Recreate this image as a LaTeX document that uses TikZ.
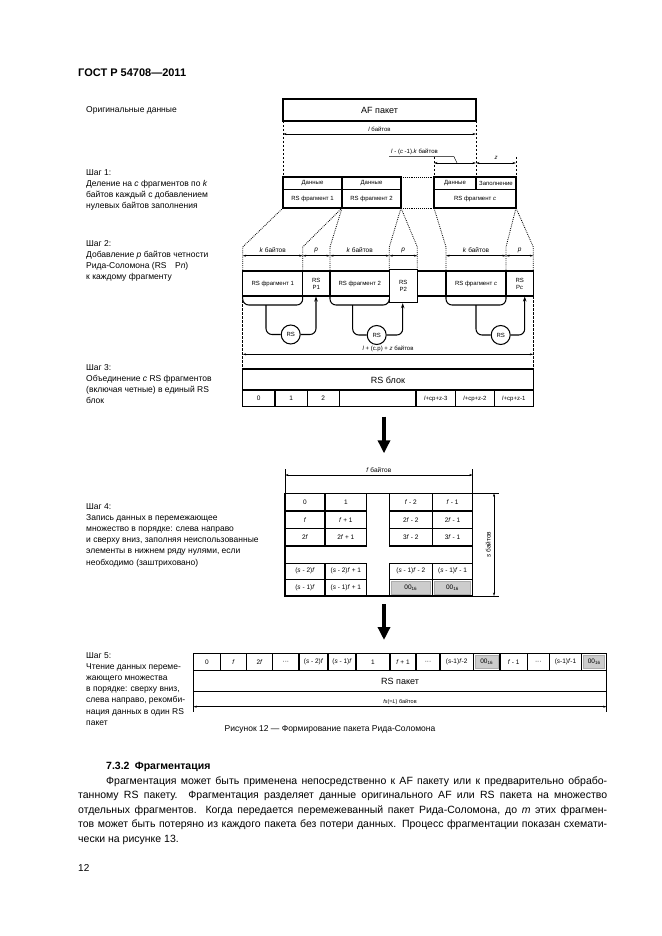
\documentclass[tikz,border=0pt]{standalone}
\usepackage{fontspec}
\setmainfont{Liberation Sans}
\usetikzlibrary{arrows.meta}
\newcommand{\fsz}[2]{\fontsize{#1}{#2}\selectfont}
\newcommand{\gridcell}[6]{\draw[bx] (#1,#2) rectangle (#3,#4); \node[cell] (#6) at ({(#1+#3)/2},{(#2+#4)/2}) {#5};}
\begin{document}
\begin{tikzpicture}[x=1pt,y=-1pt,
  bx/.style={draw,line width=1.05pt},
  ln/.style={line width=1.05pt},
  dimline/.style={line width=0.45pt,{Stealth[length=3.5pt,width=2pt]}-{Stealth[length=3.5pt,width=2pt]}},
  thinl/.style={line width=0.45pt},
  dsh/.style={line width=0.55pt,dash pattern=on 2.5pt off 1.5pt},
  dotl/.style={line width=0.85pt,dash pattern=on 0.8pt off 1.1pt},
  lbl/.style={inner sep=0pt,font=\fsz{6}{7}},
  klbl/.style={inner sep=0pt,font=\fsz{6.5}{7.5}},
  cell/.style={inner sep=0pt,font=\fsz{6.5}{7.5}},
  big/.style={inner sep=0pt,font=\fsz{9}{10}},
  side/.style={inner sep=0pt,anchor=north west,align=left,font=\fsz{8.5}{11.2}},
  shade/.style={fill=gray!40,draw=gray!65,line width=0.45pt},
  fb/.style={-{Stealth[length=5pt,width=3.5pt]}},
  bigarrow/.style={line width=4pt,-{Triangle[length=13pt,width=12pt]}},
]
\fill[white] (0,0) rectangle (661,936);
\useasboundingbox (0,0) rectangle (661,936);

% header
\node[anchor=west,inner sep=0pt,font=\bfseries\fsz{11}{13}] (hdr) at (78,73) {ГОСТ Р 54708—2011};

% side texts
\node[side] (t0) at (86,106) {Оригинальные данные};
\node[side] (t1) at (86,169) {Шаг 1:\\Деление на \textit{c} фрагментов по \textit{k}\\байтов каждый с добавлением\\нулевых байтов заполнения};
\node[side] (t2) at (86,240) {Шаг 2:\\Добавление \textit{p} байтов четности\\Рида-Соломона (RS\quad P\textit{n})\\к каждому фрагменту};
\node[side] (t3) at (86,364) {Шаг 3:\\Объединение \textit{c} RS фрагментов\\(включая четные) в единый RS\\блок};
\node[side] (t4) at (86,503) {Шаг 4:\\Запись данных в перемежающее\\множество в порядке: слева направо\\и сверху вниз, заполняя неиспользованные\\элементы в нижнем ряду нулями, если\\необходимо (заштриховано)};
\node[side] (t5) at (86,652) {Шаг 5:\\Чтение данных переме-\\жающего множества\\в порядке: сверху вниз,\\слева направо, рекомби-\\нация данных в один RS\\пакет};

% ---------- original data / step 1
\draw[bx] (283,99) rectangle (476,121);
\node[big] (af) at (379.5,110) {AF пакет};
\draw[dsh] (283,121) -- (283,177);
\draw[dsh] (476,121) -- (476,177);
\draw[dimline] (283,134) -- (476,134);
\node[lbl] (lb) at (379.5,129.5) {\textit{l} байтов};
\draw[dsh] (434,157) -- (434,177);
\draw[dsh] (516,157) -- (516,177);
\draw[dimline] (434,163) -- (476,163);
\draw[dimline] (476,163) -- (516,163);
\node[lbl,anchor=south west] (lk) at (391,155.3) {\textit{l} - (\textit{c} -1).\textit{k} байтов};
\coordinate (lkend) at (457,163);
\draw[thinl] (389,156.7) -- (454,156.7) -- (lkend);
\node[lbl] (zl) at (496,157.5) {\textit{z}};

\draw[bx] (283,177) rectangle (342,208);
\draw[ln] (283,189.3) -- (342,189.3);
\draw[bx] (342,177) rectangle (401,208);
\draw[ln] (342,189.3) -- (401,189.3);
\draw[dotl] (401,177) -- (434,177);
\draw[dotl] (401,208) -- (434,208);
\draw[bx] (434,177) rectangle (516,208);
\draw[ln] (434,189.3) -- (516,189.3);
\draw[ln] (476,177) -- (476,189.3);
\node[lbl] (d1) at (312.5,183.3) {Данные};
\node[lbl] (d2) at (371.5,183.3) {Данные};
\node[lbl] (d3) at (455,183.3) {Данные};
\node[lbl] (zp) at (496,183.3) {Заполнение};
\node[lbl] (f1) at (312.5,198.7) {RS фрагмент 1};
\node[lbl] (f2) at (371.5,198.7) {RS фрагмент 2};
\node[lbl] (fc) at (475,198.7) {RS фрагмент \textit{c}};

% dotted expansion lines
\draw[dotl] (283,208) -- (242.7,247) -- (242.7,271);
\draw[dotl] (342,208) -- (302.7,247) -- (302.7,271);
\draw[dotl] (342,208) -- (330,247) -- (330,271);
\draw[dotl] (401,208) -- (389.3,247) -- (389.3,269.3);
\draw[dotl] (401,208) -- (417.3,247) -- (417.3,269.3);
\draw[dotl] (434,208) -- (446,247) -- (446,271);
\draw[dotl] (516,208) -- (506,247) -- (506,271);
\draw[dotl] (516,208) -- (533.3,247) -- (533.3,271);

% ---------- step 2
\draw[dimline] (242.7,255.7) -- (302.7,255.7);
\draw[dimline] (302.7,255.7) -- (330,255.7);
\draw[dimline] (330,255.7) -- (389.3,255.7);
\draw[dimline] (389.3,255.7) -- (417.3,255.7);
\draw[dimline] (446,255.7) -- (506,255.7);
\draw[dimline] (506,255.7) -- (533.3,255.7);
\node[klbl] (k1) at (272.7,250.5) {\textit{k} байтов};
\node[klbl] (p1) at (316.3,250.5) {\textit{p}};
\node[klbl] (k2) at (359.7,250.5) {\textit{k} байтов};
\node[klbl] (p2) at (403.3,250.5) {\textit{p}};
\node[klbl] (k3) at (476,250.5) {\textit{k} байтов};
\node[klbl] (p3) at (519.7,250.5) {\textit{p}};

\draw[bx] (242.7,271) rectangle (533.3,296);
\draw[ln] (302.7,271) -- (302.7,296);
\draw[ln] (330,271) -- (330,296);
\draw[ln] (446,271) -- (446,296);
\draw[ln] (506,271) -- (506,296);
\draw[bx,fill=white] (389.3,269.3) rectangle (417.3,302.7);
\node[lbl] (g1) at (272.7,283.5) {RS фрагмент 1};
\node[lbl,align=center] (q1) at (316.3,283.5) {RS\\P1};
\node[lbl] (g2) at (359.7,283.5) {RS фрагмент 2};
\node[lbl,align=center] (q2) at (403.3,286) {RS\\P2};
\node[lbl] (gc) at (476,283.5) {RS фрагмент \textit{c}};
\node[lbl,align=center] (qc) at (519.7,283.5) {RS\\P\textit{c}};

\draw[ln,rounded corners=6] (242.7,296) -- (242.7,305) -- (302.7,305) -- (302.7,296);
\draw[ln,rounded corners=6] (330,296) -- (330,305) -- (389.3,305) -- (389.3,302.7);
\draw[ln,rounded corners=6] (446,296) -- (446,305) -- (506,305) -- (506,296);

\node[circle,draw,line width=1.05pt,minimum size=19pt,inner sep=0pt,font=\fsz{6}{7}] (rs1) at (290.7,334.5) {RS};
\node[circle,draw,line width=1.05pt,minimum size=19pt,inner sep=0pt,font=\fsz{6}{7}] (rs2) at (376.7,335) {RS};
\node[circle,draw,line width=1.05pt,minimum size=19pt,inner sep=0pt,font=\fsz{6}{7}] (rs3) at (500.7,335) {RS};
\draw[ln,rounded corners=6] (266,305) -- (266,334.5) -- (rs1.west);
\draw[ln,fb,rounded corners=6] (rs1.east) -- (316,334.5) -- (316,296.5);
\draw[ln,rounded corners=6] (352.7,305) -- (352.7,335) -- (rs2.west);
\draw[ln,fb,rounded corners=6] (rs2.east) -- (402.7,335) -- (402.7,303.2);
\draw[ln,rounded corners=6] (476,305) -- (476,335) -- (rs3.west);
\draw[ln,fb,rounded corners=6] (rs3.east) -- (524.7,335) -- (524.7,296.5);

\draw[dimline] (242.7,354.3) -- (533.3,354.3);
\node[lbl] (tot) at (388,349.3) {\textit{l} + (c.p) + \textit{z} байтов};
\draw[dsh] (242.7,296) -- (242.7,369);
\draw[dsh] (533.3,296) -- (533.3,369);

% ---------- step 3
\draw[bx] (242.7,369) rectangle (533.3,406.7);
\draw[ln] (242.7,390) -- (533.3,390);
\foreach \xx in {275,307.3,339.3,416,455.7,494.3} {\draw[ln] (\xx,390) -- (\xx,406.7);}
\node[big] (rsb) at (388,380) {RS блок};
\node[cell] (b0) at (258.8,398.5) {0};
\node[cell] (b1) at (291.2,398.5) {1};
\node[cell] (b2) at (323.3,398.5) {2};
\node[lbl] (b3) at (435.8,398.5) {\textit{l}+cp+z-3};
\node[lbl] (b4) at (475,398.5) {\textit{l}+cp+z-2};
\node[lbl] (b5) at (513.8,398.5) {\textit{l}+cp+z-1};

\coordinate (a1s) at (384,416.7);
\coordinate (a1e) at (384,453.3);
\draw[bigarrow] (a1s) -- (a1e);

% ---------- step 4
\draw[thinl] (285,469) -- (285,493.3);
\draw[thinl] (472.7,469) -- (472.7,493.3);
\draw[dimline] (285,475) -- (472.7,475);
\node[klbl] (fbl) at (378.8,470.3) {\textit{f} байтов};

\draw[bx] (285,493.3) rectangle (472.7,596);
\gridcell{285}{493.3}{325}{511}{0}{c11}
\gridcell{325}{493.3}{366.7}{511}{1}{c12}
\gridcell{389.3}{493.3}{432.3}{511}{\textit{f} - 2}{c13}
\gridcell{432.3}{493.3}{472.7}{511}{\textit{f} - 1}{c14}
\gridcell{285}{511}{325}{528.3}{\textit{f}}{c21}
\gridcell{325}{511}{366.7}{528.3}{\textit{f} + 1}{c22}
\gridcell{389.3}{511}{432.3}{528.3}{2\textit{f} - 2}{c23}
\gridcell{432.3}{511}{472.7}{528.3}{2\textit{f} - 1}{c24}
\gridcell{285}{528.3}{325}{546}{2\textit{f}}{c31}
\gridcell{325}{528.3}{366.7}{546}{2\textit{f} + 1}{c32}
\gridcell{389.3}{528.3}{432.3}{546}{3\textit{f} - 2}{c33}
\gridcell{432.3}{528.3}{472.7}{546}{3\textit{f} - 1}{c34}
\gridcell{285}{563.3}{325}{579.3}{(\textit{s} - 2)\textit{f}}{c41}
\gridcell{325}{563.3}{366.7}{579.3}{(\textit{s} - 2)\textit{f} + 1}{c42}
\gridcell{389.3}{563.3}{432.3}{579.3}{(\textit{s} - 1)\textit{f} - 2}{c43}
\gridcell{432.3}{563.3}{472.7}{579.3}{(\textit{s} - 1)\textit{f} - 1}{c44}
\gridcell{285}{579.3}{325}{596}{(\textit{s} - 1)\textit{f}}{c51}
\gridcell{325}{579.3}{366.7}{596}{(\textit{s} - 1)\textit{f} + 1}{c52}
\draw[bx] (389.3,579.3) rectangle (432.3,596);
\draw[bx] (432.3,579.3) rectangle (472.7,596);
\fill[shade] (391.5,581.3) rectangle (430.3,594.3);
\fill[shade] (434.5,581.3) rectangle (470.7,594.3);
\node[cell] (c53) at (410.8,588) {00\textsubscript{16}};
\node[cell] (c54) at (452.5,588) {00\textsubscript{16}};

\draw[thinl] (472.7,493.3) -- (499,493.3);
\draw[thinl] (472.7,596) -- (499,596);
\draw[dimline] (494,493.3) -- (494,596);
\node[klbl,rotate=90] (sbl) at (488.3,544.7) {\textit{s} байтов};

\coordinate (a2s) at (384,604);
\coordinate (a2e) at (384,640);
\draw[bigarrow] (a2s) -- (a2e);

% ---------- step 5
\draw[bx] (193.3,653.3) rectangle (606.7,691.7);
\draw[ln] (193.3,670.5) -- (606.7,670.5);
\foreach \a/\b/\t [count=\i] in {
193.3/220.5/{0},
220.5/246.5/{\textit{f}},
246.5/272.7/{2\textit{f}},
272.7/299/{···},
299/328/{(\textit{s} - 2)\textit{f}},
328/356/{(\textit{s} - 1)\textit{f}},
356/390/{1},
390/416/{\textit{f} + 1},
416/440/{···},
440/473.3/{(\textit{s}-1)\textit{f}-2},
473.3/500/{},
500/527.3/{\textit{f} - 1},
527.3/549.3/{···},
549.3/581.7/{(\textit{s}-1)\textit{f}-1},
581.7/606.7/{}}
{\draw[ln] (\b,653.3) -- (\b,670.5); \node[cell] (s5c\i) at ({(\a+\b)/2},662) {\t};}
\fill[shade] (475.5,655.3) rectangle (498,668.5);
\fill[shade] (583.7,655.3) rectangle (604.7,668.5);
\node[cell] (z1) at (486.7,662) {00\textsubscript{16}};
\node[cell] (z2) at (594.2,662) {00\textsubscript{16}};
\node[big] (rsp) at (400,681) {RS пакет};
\draw[thinl] (193.3,691.7) -- (193.3,712);
\draw[thinl] (606.7,691.7) -- (606.7,712);
\draw[dimline] (193.3,706.7) -- (606.7,706.7);
\node[inner sep=0pt,font=\fsz{5.5}{6.5}] (fsl) at (400,701.8) {\textit{fs}(=\textit{L}) байтов};

% caption
\node[inner sep=0pt,font=\fsz{8.5}{10}] (cap) at (330,729) {Рисунок 12 — Формирование пакета Рида-Соломона};

% section text
\node[anchor=west,inner sep=0pt,font=\bfseries\fsz{10.5}{12}] (sec) at (106,767) {7.3.2\enspace Фрагментация};
\node[anchor=north west,inner sep=0pt,align=left,font=\fsz{10.5}{14.5}] (body) at (78,776.5) {%
\hspace*{28pt}\makebox[501pt][s]{Фрагментация может быть применена непосредственно к AF пакету или к предварительно обрабо-}\\
\makebox[529pt][s]{танному RS пакету. Фрагментация разделяет данные оригинального AF или RS пакета на множество}\\
\makebox[529pt][s]{отдельных фрагментов. Когда передается перемежеванный пакет Рида-Соломона, до \textit{m} этих фрагмен-}\\
\makebox[529pt][s]{тов может быть потеряно из каждого пакета без потери данных. Процесс фрагментации показан схемати-}\\
чески на рисунке 13.};
\node[anchor=west,inner sep=0pt,font=\fsz{10}{12}] (pg) at (78,868) {12};
\end{tikzpicture}
\end{document}
